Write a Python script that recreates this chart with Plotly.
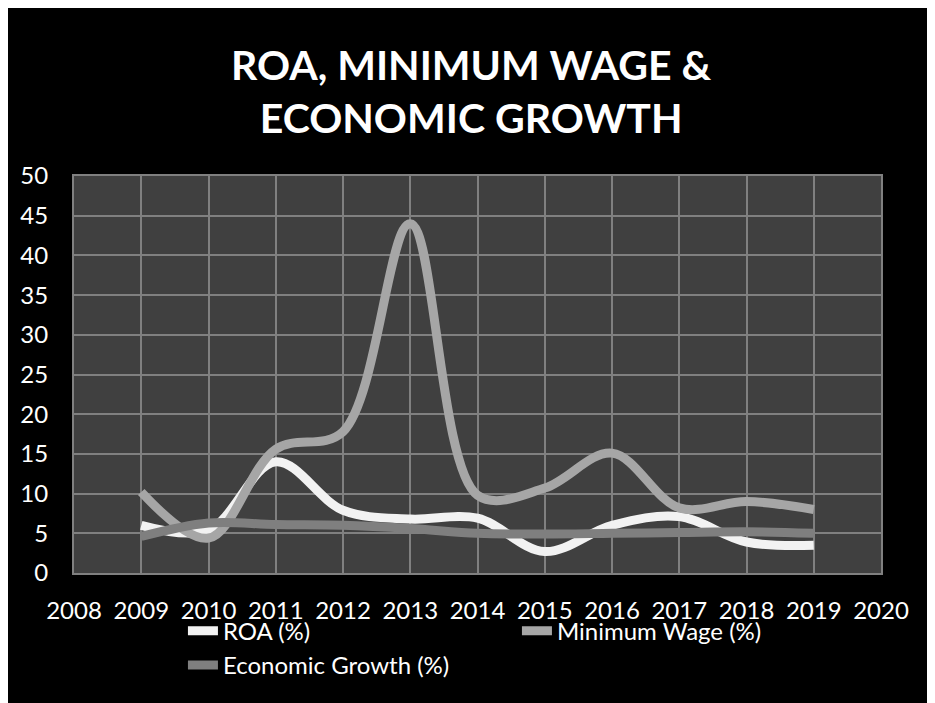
import plotly.graph_objects as go

years = [2009, 2010, 2011, 2012, 2013, 2014, 2015, 2016, 2017, 2018, 2019]
roa = [6.0, 5.4, 14.0, 7.9, 6.8, 6.9, 2.7, 6.0, 7.1, 3.9, 3.5]
min_wage = [10.2, 4.4, 15.6, 17.8, 44.0, 9.8, 10.7, 15.1, 8.2, 9.0, 8.0]
econ_growth = [4.6, 6.3, 6.1, 6.0, 5.6, 5.0, 4.9, 5.0, 5.1, 5.2, 5.0]

series_names = ["ROA (%)", "Minimum Wage (%)", "Economic Growth (%)"]
series_colors = ["#f2f2f2", "#a6a6a6", "#7f7f7f"]
x_ticks = list(range(2008, 2021))
y_ticks = list(range(0, 55, 5))
title_text = "<b>ROA, MINIMUM WAGE &amp;<br>ECONOMIC GROWTH</b>"

FONT = "Lato"

fig = go.Figure()
for name, vals, col in zip(series_names, [roa, min_wage, econ_growth], series_colors):
    fig.add_trace(go.Scatter(
        x=years, y=vals, name=name, mode="lines",
        line=dict(color=col, width=9, shape="spline", smoothing=1.0),
    ))

fig.update_layout(
    width=927, height=695,
    paper_bgcolor="black", plot_bgcolor="#404040",
    margin=dict(l=64, r=54, t=168, b=130),
    font=dict(family=FONT, color="white"),
    showlegend=True,
    legend=dict(
        orientation="h", x=0.135, xanchor="left", y=-0.09, yanchor="top",
        font=dict(family=FONT, size=24, color="white"),
        entrywidth=289, entrywidthmode="pixels",
        bgcolor="rgba(0,0,0,0)", tracegroupgap=0,
    ),
    xaxis=dict(
        range=[2008, 2020], tickvals=x_ticks, ticktext=[str(t) for t in x_ticks],
        showgrid=True, gridcolor="#808080", gridwidth=2,
        zeroline=False, showline=True, linecolor="#808080", linewidth=2, mirror=True,
        tickfont=dict(family=FONT, size=24, color="white"),
        ticks="", ticklabelstandoff=15,
    ),
    yaxis=dict(
        range=[0, 50], tickvals=y_ticks,
        showgrid=True, gridcolor="#808080", gridwidth=2,
        zeroline=False, showline=True, linecolor="#808080", linewidth=2, mirror=True,
        tickfont=dict(family=FONT, size=24, color="white"),
        ticks="", ticklabelstandoff=19,
    ),
    annotations=[dict(
        text=title_text, xref="paper", yref="paper",
        x=0.492, y=1.214, xanchor="center", yanchor="middle",
        showarrow=False, align="center",
        font=dict(family=FONT, size=41, color="white"),
    )],
)

fig.write_html("out.html")
